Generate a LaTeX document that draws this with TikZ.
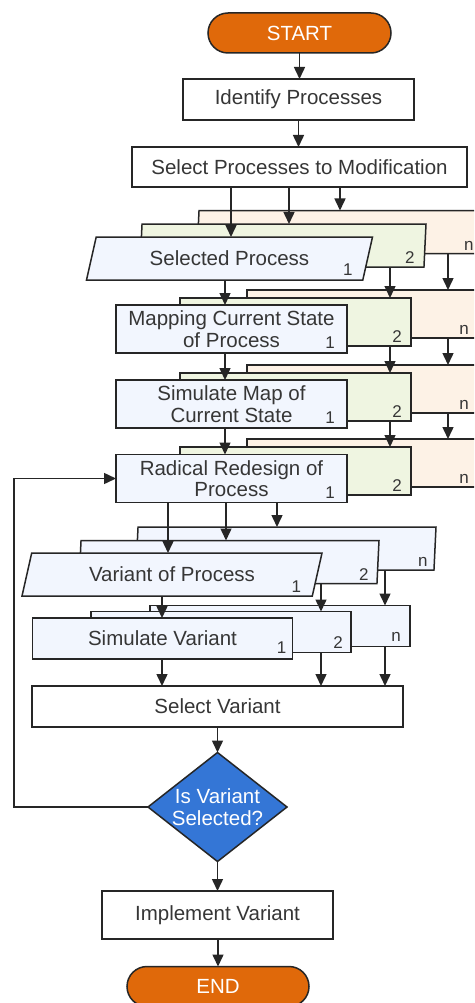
\documentclass[tikz,border=0pt]{standalone}
\usepackage{fontspec}
\setmainfont{Liberation Sans}
\usetikzlibrary{shapes.geometric,shapes.misc,arrows.meta}

\definecolor{edge}{HTML}{262626}
\definecolor{txt}{HTML}{363636}
\definecolor{fillA}{HTML}{F2F6FE}
\definecolor{fillB}{HTML}{EFF5E1}
\definecolor{fillC}{HTML}{FDF2E6}
\definecolor{termfill}{HTML}{E0690A}
\definecolor{decfill}{HTML}{3476D6}

\begin{document}
\begin{tikzpicture}[x=1pt,y=-1pt,
  base/.style={draw=edge, line width=1.5pt, outer sep=0pt, inner sep=2pt,
    text=txt, font=\fontsize{20.5}{21.5}\selectfont, align=center},
  proc/.style={base, rectangle, fill=white},
  term/.style={base, rounded rectangle, fill=termfill, text=white,
    minimum width=187, minimum height=40},
  stk/.style={base, rectangle, minimum width=231, minimum height=48},
  svbox/.style={base, rectangle, fill=fillA, minimum width=260, minimum height=41},
  para/.style={base, trapezium, trapezium left angle=63, trapezium right angle=117,
    trapezium stretches body=true, minimum height=43, minimum width=#1},
  decision/.style={base, diamond, fill=decfill, inner sep=0pt,
    minimum width=139, minimum height=109},
  dectext/.style={text=white, font=\fontsize{20.5}{21.5}\selectfont, align=center},
  num/.style={text=txt, font=\fontsize{17}{18}\selectfont, inner sep=0pt},
  arr/.style={draw=edge, line width=1.5pt, -{Triangle[length=12pt,width=11pt]}}
]
\useasboundingbox (0,0) rectangle (474,1003);
\fill[white] (0,0) rectangle (474,1003);
\clip (0,0) rectangle (474,1003);

% top of the chart
\node[term] (start) at (299.5,33) {START};
\node[proc, minimum width=231, minimum height=41] (ident) at (298.5,99.5) {Identify Processes};
\node[proc, minimum width=335, minimum height=40] (selp) at (299.5,167) {Select Processes to Modification};

% stacked selected processes 1, 2, ..., n
\node[para=286, fill=fillC] (spn) at (340,232) {};
\node[para=286, fill=fillB] (sp2) at (283,245.5) {};
\node[para=286, fill=fillA] (sp1) at (229.5,258.5) {Selected Process};
\node[num] (spnL) at ([shift={(-12,-8)}]spn.bottom right corner) {n};
\node[num] (sp2L) at ([shift={(-14,-9)}]sp2.bottom right corner) {2};
\node[num] (sp1L) at ([shift={(-15,-10)}]sp1.bottom right corner) {1};

% mapping of the current state
\node[stk, fill=fillC] (mpn) at (362.5,314) {};
\node[stk, fill=fillB] (mp2) at (295.5,322) {};
\node[stk, fill=fillA] (mp1) at (231.5,329) {Mapping Current State\\of Process};
\node[num] (mpnL) at ([shift={(-14,-8)}]mpn.south east) {n};
\node[num] (mp2L) at ([shift={(-14,-9)}]mp2.south east) {2};
\node[num] (mp1L) at ([shift={(-17,-10)}]mp1.south east) {1};

% simulation of the map
\node[stk, fill=fillC] (smn) at (362.5,389) {};
\node[stk, fill=fillB] (sm2) at (295.5,397) {};
\node[stk, fill=fillA] (sm1) at (231.5,404) {Simulate Map of\\Current State};
\node[num] (smnL) at ([shift={(-14,-8)}]smn.south east) {n};
\node[num] (sm2L) at ([shift={(-14,-9)}]sm2.south east) {2};
\node[num] (sm1L) at ([shift={(-17,-10)}]sm1.south east) {1};

% radical redesign
\node[stk, fill=fillC] (rrn) at (362.5,463) {};
\node[stk, fill=fillB] (rr2) at (295.5,471) {};
\node[stk, fill=fillA] (rr1) at (231.5,478.5) {Radical Redesign of\\Process};
\node[num] (rrnL) at ([shift={(-14,-8)}]rrn.south east) {n};
\node[num] (rr2L) at ([shift={(-14,-9)}]rr2.south east) {2};
\node[num] (rr1L) at ([shift={(-17,-10)}]rr1.south east) {1};

% variants of the process
\node[para=300, fill=fillA] (vpn) at (286,548.5) {};
\node[para=300, fill=fillA] (vp2) at (229,562) {};
\node[para=300, fill=fillA] (vp1) at (172,574.5) {Variant of Process};
\node[num] (vpnL) at ([shift={(-11,-8)}]vpn.bottom right corner) {n};
\node[num] (vp2L) at ([shift={(-13,-9)}]vp2.bottom right corner) {2};
\node[num] (vp1L) at ([shift={(-16,-9)}]vp1.bottom right corner) {1};

% simulation of the variants
\node[svbox] (svn) at (280,626) {};
\node[svbox] (sv2) at (221,632) {};
\node[svbox] (sv1) at (162.5,638.5) {Simulate Variant};
\node[num] (svnL) at ([shift={(-14,-10)}]svn.south east) {n};
\node[num] (sv2L) at ([shift={(-13,-10)}]sv2.south east) {2};
\node[num] (sv1L) at ([shift={(-11,-11)}]sv1.south east) {1};

% selection and end of the chart
\node[proc, minimum width=371, minimum height=41] (selv) at (217.5,706.5) {Select Variant};
\node[decision, label={[dectext]center:Is Variant\\Selected?}] (dec) at (217.5,807) {};
\node[proc, minimum width=231, minimum height=48] (impl) at (217.5,915) {Implement Variant};
\node[term, minimum width=186] (stop) at (218,986.5) {END};

% columns of the parallel connectors
\coordinate (ka) at (231,0);
\coordinate (kb) at (289,0);
\coordinate (kc) at (340,0);
\coordinate (k1) at (225,0);
\coordinate (k2) at (390,0);
\coordinate (kn) at (448,0);
\coordinate (kv1) at (168,0);
\coordinate (kv2) at (226,0);
\coordinate (kvn) at (277,0);
\coordinate (ks1) at (162,0);
\coordinate (ks2) at (321,0);
\coordinate (ksn) at (385,0);
\coordinate (lx) at (14,0);

\draw[arr] (start.south) -- (start.south |- ident.north);
\draw[arr] (ident.south) -- (ident.south |- selp.north);

\draw[arr] (selp.south -| ka) -- (sp1.north -| ka);
\draw[arr] (selp.south -| kb) -- (sp2.north -| kb);
\draw[arr] (selp.south -| kc) -- (spn.north -| kc);

\draw[arr] (sp1.south -| k1) -- (mp1.north -| k1);
\draw[arr] (sp2.south -| k2) -- (mp2.north -| k2);
\draw[arr] (spn.south -| kn) -- (mpn.north -| kn);

\draw[arr] (mp1.south -| k1) -- (sm1.north -| k1);
\draw[arr] (mp2.south -| k2) -- (sm2.north -| k2);
\draw[arr] (mpn.south -| kn) -- (smn.north -| kn);

\draw[arr] (sm1.south -| k1) -- (rr1.north -| k1);
\draw[arr] (sm2.south -| k2) -- (rr2.north -| k2);
\draw[arr] (smn.south -| kn) -- (rrn.north -| kn);

\draw[arr] (rr1.south -| kv1) -- (vp1.north -| kv1);
\draw[arr] (rr1.south -| kv2) -- (vp2.north -| kv2);
\draw[arr] (rr1.south -| kvn) -- (vpn.north -| kvn);

\draw[arr] (vp1.south -| ks1) -- (sv1.north -| ks1);
\draw[arr] (vp2.south -| ks2) -- (sv2.north -| ks2);
\draw[arr] (vpn.south -| ksn) -- (svn.north -| ksn);

\draw[arr] (sv1.south -| ks1) -- (selv.north -| ks1);
\draw[arr] (sv2.south -| ks2) -- (selv.north -| ks2);
\draw[arr] (svn.south -| ksn) -- (selv.north -| ksn);

\draw[arr] (selv.south -| dec.north) -- (dec.north);
\draw[arr] (dec.south) -- (dec.south |- impl.north);
\draw[arr] (impl.south -| stop.north) -- (stop.north);

% loop back to the redesign when no variant is selected
\draw[arr] (dec.west) -| (lx |- rr1.west) -- (rr1.west);
\end{tikzpicture}
\end{document}
